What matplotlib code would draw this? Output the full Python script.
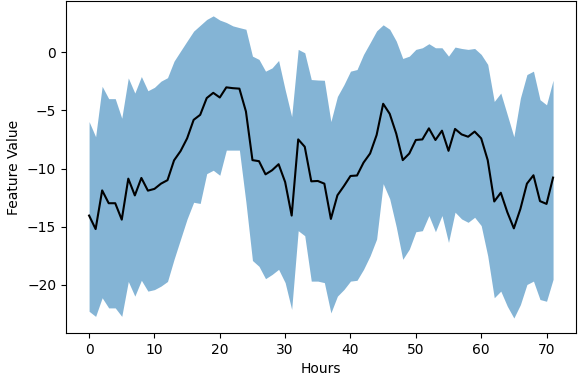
import numpy as np
import matplotlib
matplotlib.use('Agg')
from matplotlib import pyplot as plt

# hourly values
hours = np.arange(72)

mean = [-14.04, -15.2, -11.88, -12.98, -12.98, -14.39, -10.87, -12.31, -10.81, -11.9,
        -11.75, -11.3, -11.0, -9.3, -8.5, -7.41, -5.82, -5.39, -3.95, -3.5,
        -3.9, -3.03, -3.1, -3.14, -5.1, -9.28, -9.37, -10.5, -10.15, -9.63,
        -11.16, -14.04, -7.5, -8.13, -11.1, -11.07, -11.3, -14.33, -12.3, -11.5,
        -10.64, -10.6, -9.49, -8.71, -7.12, -4.44, -5.3, -7.0, -9.28, -8.71,
        -7.55, -7.5, -6.55, -7.55, -6.75, -8.48, -6.6, -7.07, -7.27, -6.83,
        -7.41, -9.28, -12.83, -12.08, -13.75, -15.14, -13.47, -11.3, -10.58, -12.8,
        -13.04, -10.78]

upper = [-5.97, -7.27, -2.94, -4.0, -4.0, -5.68, -2.22, -3.52, -2.1, -3.32,
         -3.03, -2.5, -2.2, -0.78, 0.09, 0.95, 1.8, 2.3, 2.8, 3.11,
         2.75, 2.54, 2.25, 2.1, 1.96, -0.35, -0.63, -1.64, -1.36, -0.72,
         -3.23, -5.54, 0.23, -0.06, -2.36, -2.4, -2.42, -5.97, -3.81, -2.8,
         -1.64, -1.5, -0.2, 0.8, 1.82, 2.34, 1.96, 0.95, -0.55, -0.35,
         0.23, 0.37, 0.72, 0.37, 0.37, -0.35, 0.43, 0.31, 0.23, 0.31,
         -0.2, -1.06, -4.24, -3.52, -5.39, -7.27, -3.95, -1.93, -1.64, -4.09,
         -4.53, -2.42]

lower = [-22.26, -22.7, -21.1, -21.97, -21.97, -22.7, -19.7, -20.96, -19.6, -20.53,
         -20.4, -20.1, -19.7, -17.8, -16.06, -14.33, -12.9, -13.0, -10.44, -10.15,
         -10.58, -8.42, -8.42, -8.42, -12.9, -17.9, -18.4, -19.46, -19.1, -18.66,
         -19.8, -22.1, -15.34, -15.77, -19.67, -19.67, -19.8, -22.4, -20.96, -20.39,
         -19.67, -19.6, -18.66, -17.5, -16.06, -11.3, -12.6, -15.0, -17.8, -16.93,
         -15.43, -15.34, -14.04, -15.43, -14.04, -16.35, -13.75, -14.33, -14.62, -14.19,
         -14.9, -17.5, -21.1, -20.53, -21.83, -22.84, -21.69, -19.96, -19.67, -21.25,
         -21.4, -19.52]

fig = plt.figure(figsize=(5.78, 3.76), dpi=100)
ax = fig.add_axes([0.114, 0.114, 0.883, 0.884])

ax.fill_between(hours, lower, upper, color='C0', alpha=0.55, linewidth=0)
ax.plot(hours, mean, color='black', linewidth=1.5)

ax.set_xlabel('Hours')
ax.set_ylabel('Feature Value')

fig.savefig('out.png', dpi=100)
